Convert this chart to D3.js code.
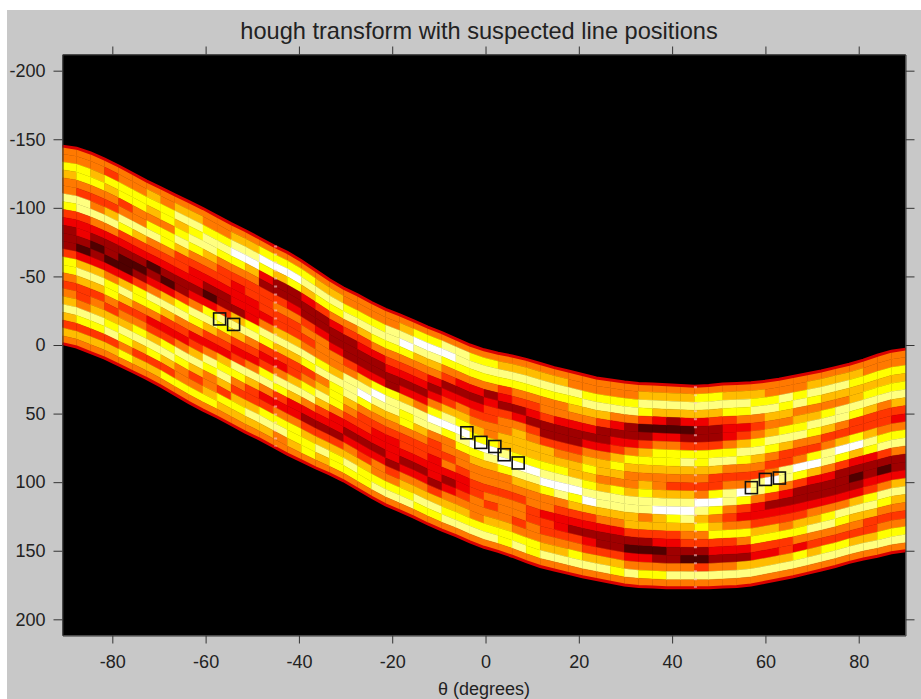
<!doctype html>
<html>
<head>
<meta charset="utf-8">
<style>
    body { margin: 0; background: #fff; }
    text { font-family: "Liberation Sans", Arial, sans-serif; fill: #222; }
    .tick text { font-size: 18px; }
    .domain, .tick line { stroke: #333; }
</style>
<script src="https://d3js.org/d3.v7.min.js"></script>
</head>
<body>
<svg width="921" height="699"></svg>
<script>
    // theta of each column (every 3 degrees)
    var thetaCols = [-88.5,-85.5,-82.5,-79.5,-76.5,-73.5,-70.5,-67.5,-64.5,-61.5,-58.5,-55.5,-52.5,-49.5,-46.5,-43.5,-40.5,-37.5,-34.5,-31.5,-28.5,-25.5,-22.5,-19.5,-16.5,-13.5,-10.5,-7.5,-4.5,-1.5,1.5,4.5,7.5,10.5,13.5,16.5,19.5,22.5,25.5,28.5,31.5,34.5,37.5,40.5,43.5,46.5,49.5,52.5,55.5,58.5,61.5,64.5,67.5,70.5,73.5,76.5,79.5,82.5,85.5,88.5];
    // upper and lower edge of the lit band in each column
    var rhoTop = [-145,-142,-138,-133,-128,-122,-117,-112,-107,-102,-97,-91,-86,-81,-75,-70,-65,-58,-51,-44,-39,-34,-28,-24,-20,-15,-11,-7,-2,2,5,7,9,12,15,18,20,23,25,26,28,28,29,29,30,30,29,28,28,27,26,24,22,20,18,15,13,9,6,3];
    var rhoBottom = [-1,4,7,12,17,22,27,33,39,45,50,55,61,66,71,77,82,87,92,96,102,108,114,119,123,128,133,137,141,146,149,152,156,160,163,165,168,170,172,174,176,176,177,177,177,177,177,176,176,174,172,170,168,165,163,160,157,155,153,150];
    // heat level 0-9 of each column, top of band to bottom
    var heatCols = [
        "5576558743222477545686465",
        "5577548843321368644587465",
        "5567545853212368645687465",
        "5476546853221357754678465",
        "5577458743211368645687575",
        "5577558643212477545786465",
        "5676578543123587534687465",
        "5577577543213686434786475",
        "5686786443224785435875575",
        "5687875433235875346864575",
        "5578865432137864358755675",
        "5578754432248754367864765",
        "5689754333268643487546765",
        "5689654433378543586446865",
        "5797324443587434785347865",
        "5796224544686435874357855",
        "5797223544686446863357765",
        "5786322454587457853246775",
        "5687422355578568643246865",
        "5687532235568777533246775",
        "5578542224588865432356875",
        "5578643223689754432346775",
        "5578753223798654332355785",
        "5588754322788654333245785",
        "5689754323687754432356785",
        "5798654323588654432356875",
        "5798653235798544333246875",
        "5897542346897554532356785",
        "5887532356798755433456785",
        "5787532345679765544555785",
        "5787523445579865545456785",
        "5687432455668975545556775",
        "5687542356667986545545785",
        "5687543245667986554455775",
        "5687554224667897553445685",
        "5687553224567898543345685",
        "5587653224566897643245785",
        "5578653235676789643234685",
        "5578642235665688653224685",
        "5578532346765788653224675",
        "5578522357655688664213585",
        "5687412467656788564213575",
        "5686313577655689664312575",
        "5686213577654689764322585",
        "5686312478654689865421585",
        "5786322477654598675421485",
        "5786422478644797567432585",
        "5687433578545885457432585",
        "5687534687545974357532685",
        "5678545786548853346743685",
        "5578656875459742346743685",
        "5587657864488532345744685",
        "5578567854597422346753785",
        "5687568754796322356854685",
        "5686578645885322357854785",
        "5686588546974222358754785",
        "5676687447963212368654685",
        "5576786446873223478644685",
        "5576785445784213587545785",
        "5576786435785223686545785"
    ];
    // suspected line positions
    var peakTheta = [-57,-54,-4,-1,2,4,7,57,60,63];
    var peakRho = [-19,-15,64,71,74,80,86,104,98,97];
    // tick labels
    var thetaTicks = [-80,-60,-40,-20,0,20,40,60,80];
    var rhoTicks = [-200,-150,-100,-50,0,50,100,150,200];
    // column boundaries where the picture has a speckled vertical seam
    var seamTheta = [-45,45];

    var svg = d3.select("svg"),
        plotLeft = 62.5, plotRight = 905.5, plotTop = 54.5, plotBottom = 635.5;

    var x = d3.scaleLinear().domain([-90.68, 90.03]).range([plotLeft, plotRight]),
        y = d3.scaleLinear().domain([-211.8, 211.8]).range([plotTop, plotBottom]),
        xCol = d3.scaleBand().domain(thetaCols).range([plotLeft, plotRight]);

    // "hot" colormap, stretched a little at the orange end like the picture
    var hot = d3.scaleLinear()
        .domain([0, 3.2, 7, 9])
        .range(["#000000", "#ff0000", "#ffff00", "#ffffff"]);

    // band edge where column i meets column i + 1
    function edgeAt(rho, i) {
        return d3.mean([rho[Math.max(i, 0)], rho[Math.min(i + 1, rho.length - 1)]]);
    }

    // right side of column i, -1 gives the left side of the first one
    function colEnd(i) {
        return i < 0 ? xCol(thetaCols[0]) : xCol(thetaCols[i]) + xCol.bandwidth();
    }

    // figure background
    svg.append("rect")
       .attr("x", 7).attr("y", 10)
       .attr("width", 914).attr("height", 689)
       .attr("fill", "#c8c8c8");

    svg.append("rect")
       .attr("x", plotLeft).attr("y", plotTop)
       .attr("width", plotRight - plotLeft).attr("height", plotBottom - plotTop)
       .attr("fill", "#000");

    // heat cells, slanted so they follow the band
    var cols = svg.append("g").selectAll("g")
        .data(thetaCols)
        .enter().append("g");

    cols.each(function(theta, i) {
        var levels = heatCols[i].split("").map(Number);
        var leftRow = d3.scaleLinear().domain([0, levels.length])
            .range([y(edgeAt(rhoTop, i - 1)), y(edgeAt(rhoBottom, i - 1))]);
        var rightRow = d3.scaleLinear().domain([0, levels.length])
            .range([y(edgeAt(rhoTop, i)), y(edgeAt(rhoBottom, i))]);
        d3.select(this).selectAll("path")
            .data(levels)
            .enter().append("path")
            .attr("d", function(d, k) {
                return d3.line()([
                    [colEnd(i - 1), leftRow(k)], [colEnd(i), rightRow(k)],
                    [colEnd(i), rightRow(k + 1)], [colEnd(i - 1), leftRow(k + 1)]
                ]) + "Z";
            })
            .attr("fill", function(d) { return hot(d); })
            .attr("stroke", function(d) { return hot(d); })
            .attr("stroke-width", 0.4);
    });

    // thin red rim along both band edges
    [rhoTop, rhoBottom].forEach(function(rho) {
        svg.append("path")
           .attr("d", d3.line()
               .x(function(i) { return colEnd(i); })
               .y(function(i) { return y(edgeAt(rho, i)); })(d3.range(-1, rho.length)))
           .attr("fill", "none")
           .attr("stroke", "#d80000")
           .attr("stroke-width", 3);
    });

    // speckled seams
    svg.append("g").selectAll("line")
       .data(seamTheta)
       .enter().append("line")
       .attr("x1", function(d) { return x(d); })
       .attr("x2", function(d) { return x(d); })
       .attr("y1", function(d) { return y(edgeAt(rhoTop, thetaCols.indexOf(d - 1.5))); })
       .attr("y2", function(d) { return y(edgeAt(rhoBottom, thetaCols.indexOf(d - 1.5))); })
       .attr("stroke", "#ffd0d0")
       .attr("stroke-width", 3)
       .attr("stroke-dasharray", "2 6")
       .attr("opacity", 0.6);

    // peak markers
    svg.append("g").selectAll("rect")
       .data(peakTheta)
       .enter().append("rect")
       .attr("x", function(d) { return x(d) - 6; })
       .attr("y", function(d, i) { return y(peakRho[i]) - 6; })
       .attr("width", 12)
       .attr("height", 12)
       .attr("fill", "none")
       .attr("stroke", "#111")
       .attr("stroke-width", 1.6);

    // axes
    svg.append("g")
       .attr("transform", "translate(0," + plotBottom + ")")
       .call(d3.axisBottom(x).tickValues(thetaTicks).tickSize(8).tickSizeOuter(0).tickPadding(12));
    svg.append("g")
       .attr("transform", "translate(0," + plotTop + ")")
       .call(d3.axisTop(x).tickValues(thetaTicks).tickSize(8).tickSizeOuter(0).tickFormat(""));
    svg.append("g")
       .attr("transform", "translate(" + plotLeft + ",0)")
       .call(d3.axisLeft(y).tickValues(rhoTicks).tickSize(9).tickSizeOuter(0).tickPadding(8));
    svg.append("g")
       .attr("transform", "translate(" + plotRight + ",0)")
       .call(d3.axisRight(y).tickValues(rhoTicks).tickSize(9).tickSizeOuter(0).tickFormat(""));

    // d3 writes a real minus sign, the picture uses a hyphen
    svg.selectAll(".tick text").text(function() { return d3.select(this).text().replace("\u2212", "-"); });

    // title and label
    svg.append("text")
       .attr("x", 479).attr("y", 39)
       .attr("text-anchor", "middle")
       .attr("font-size", "23.6px")
       .text("hough transform with suspected line positions");
    svg.append("text")
       .attr("x", 484).attr("y", 695)
       .attr("text-anchor", "middle")
       .attr("font-size", "18px")
       .text("\u03b8 (degrees)");
</script>
</body>
</html>
